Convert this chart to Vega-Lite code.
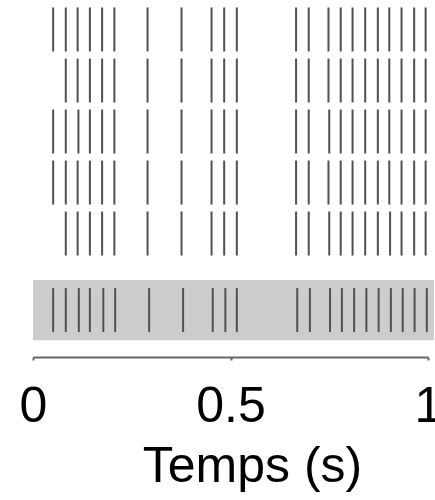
{
  "$schema": "https://vega.github.io/schema/vega-lite/v6.json",
  "width": 395,
  "height": 357,
  "autosize": {"type": "none"},
  "padding": {"left": 33, "top": 0, "right": 7, "bottom": 143},
  "config": {"view": {"stroke": null}, "font": "Liberation Sans"},
  "datasets": {
    "box": [{"x": 0, "x2": 1.015, "y": 4.91, "y2": 6.09}],
    "spikes": [
      {"row": 0, "t": 0.051}, {"row": 0, "t": 0.083}, {"row": 0, "t": 0.113}, {"row": 0, "t": 0.144}, {"row": 0, "t": 0.175}, {"row": 0, "t": 0.206},
      {"row": 0, "t": 0.290}, {"row": 0, "t": 0.376}, {"row": 0, "t": 0.452}, {"row": 0, "t": 0.484}, {"row": 0, "t": 0.516},
      {"row": 0, "t": 0.666}, {"row": 0, "t": 0.698}, {"row": 0, "t": 0.748}, {"row": 0, "t": 0.779}, {"row": 0, "t": 0.809}, {"row": 0, "t": 0.841},
      {"row": 0, "t": 0.873}, {"row": 0, "t": 0.902}, {"row": 0, "t": 0.933}, {"row": 0, "t": 0.965}, {"row": 0, "t": 0.994},

      {"row": 1, "t": 0.083}, {"row": 1, "t": 0.113}, {"row": 1, "t": 0.144}, {"row": 1, "t": 0.175}, {"row": 1, "t": 0.206},
      {"row": 1, "t": 0.290}, {"row": 1, "t": 0.376}, {"row": 1, "t": 0.452}, {"row": 1, "t": 0.484}, {"row": 1, "t": 0.516},
      {"row": 1, "t": 0.666}, {"row": 1, "t": 0.698}, {"row": 1, "t": 0.748}, {"row": 1, "t": 0.779}, {"row": 1, "t": 0.809}, {"row": 1, "t": 0.841},
      {"row": 1, "t": 0.873}, {"row": 1, "t": 0.902}, {"row": 1, "t": 0.933}, {"row": 1, "t": 0.965}, {"row": 1, "t": 0.994},

      {"row": 2, "t": 0.051}, {"row": 2, "t": 0.083}, {"row": 2, "t": 0.115}, {"row": 2, "t": 0.144}, {"row": 2, "t": 0.175}, {"row": 2, "t": 0.206},
      {"row": 2, "t": 0.290}, {"row": 2, "t": 0.376}, {"row": 2, "t": 0.452}, {"row": 2, "t": 0.484}, {"row": 2, "t": 0.516},
      {"row": 2, "t": 0.666}, {"row": 2, "t": 0.698}, {"row": 2, "t": 0.750}, {"row": 2, "t": 0.779}, {"row": 2, "t": 0.809}, {"row": 2, "t": 0.841},
      {"row": 2, "t": 0.873}, {"row": 2, "t": 0.902}, {"row": 2, "t": 0.933}, {"row": 2, "t": 0.965}, {"row": 2, "t": 0.994},

      {"row": 3, "t": 0.051}, {"row": 3, "t": 0.083}, {"row": 3, "t": 0.113}, {"row": 3, "t": 0.144}, {"row": 3, "t": 0.175}, {"row": 3, "t": 0.206},
      {"row": 3, "t": 0.290}, {"row": 3, "t": 0.376}, {"row": 3, "t": 0.452}, {"row": 3, "t": 0.484}, {"row": 3, "t": 0.516},
      {"row": 3, "t": 0.666}, {"row": 3, "t": 0.698}, {"row": 3, "t": 0.748}, {"row": 3, "t": 0.779}, {"row": 3, "t": 0.809}, {"row": 3, "t": 0.841},
      {"row": 3, "t": 0.873}, {"row": 3, "t": 0.902}, {"row": 3, "t": 0.933}, {"row": 3, "t": 0.965}, {"row": 3, "t": 0.994},

      {"row": 4, "t": 0.083}, {"row": 4, "t": 0.113}, {"row": 4, "t": 0.144}, {"row": 4, "t": 0.175}, {"row": 4, "t": 0.206},
      {"row": 4, "t": 0.290}, {"row": 4, "t": 0.376}, {"row": 4, "t": 0.452}, {"row": 4, "t": 0.484}, {"row": 4, "t": 0.516},
      {"row": 4, "t": 0.666}, {"row": 4, "t": 0.698}, {"row": 4, "t": 0.750}, {"row": 4, "t": 0.779}, {"row": 4, "t": 0.809}, {"row": 4, "t": 0.841},
      {"row": 4, "t": 0.873}, {"row": 4, "t": 0.904}, {"row": 4, "t": 0.933}, {"row": 4, "t": 0.965}, {"row": 4, "t": 0.994},

      {"row": 5.5, "t": 0.051}, {"row": 5.5, "t": 0.083}, {"row": 5.5, "t": 0.116}, {"row": 5.5, "t": 0.144}, {"row": 5.5, "t": 0.178}, {"row": 5.5, "t": 0.208},
      {"row": 5.5, "t": 0.294}, {"row": 5.5, "t": 0.380}, {"row": 5.5, "t": 0.455}, {"row": 5.5, "t": 0.487}, {"row": 5.5, "t": 0.516},
      {"row": 5.5, "t": 0.669}, {"row": 5.5, "t": 0.701}, {"row": 5.5, "t": 0.752}, {"row": 5.5, "t": 0.782}, {"row": 5.5, "t": 0.813}, {"row": 5.5, "t": 0.844},
      {"row": 5.5, "t": 0.875}, {"row": 5.5, "t": 0.906}, {"row": 5.5, "t": 0.936}, {"row": 5.5, "t": 0.966}, {"row": 5.5, "t": 0.997}
    ]
  },
  "layer": [
    {
      "data": {"name": "box"},
      "mark": {"type": "rect", "color": "#cccccc"},
      "encoding": {
        "x": {"field": "x", "type": "quantitative", "scale": {"domain": [0, 1], "nice": false, "zero": false, "clamp": false},
          "axis": {
            "values": [0, 0.5, 1],
            "labelExpr": "datum.value == 0.5 ? '0.5' : format(datum.value, 'd')",
            "grid": false,
            "domainColor": "#666666", "domainWidth": 2,
            "tickColor": "#666666", "tickWidth": 2, "tickSize": 3,
            "labelFontSize": 50, "labelColor": "#000000", "labelPadding": 21, "labelFlush": false, "labelOverlap": false,
            "title": "Temps (s)", "titleFontSize": 50, "titleFontWeight": "normal", "titleColor": "#000000",
            "titlePadding": 10, "titleX": 219, "titleAlign": "center"
          }},
        "x2": {"field": "x2"},
        "y": {"field": "y", "type": "quantitative", "scale": {"domain": [-0.578, 6.42], "reverse": true, "nice": false, "zero": false}, "axis": null},
        "y2": {"field": "y2"}
      }
    },
    {
      "data": {"name": "spikes"},
      "mark": {"type": "tick", "orient": "vertical", "size": 44, "thickness": 2, "color": "#505050", "opacity": 1},
      "encoding": {
        "x": {"field": "t", "type": "quantitative"},
        "y": {"field": "row", "type": "quantitative"}
      }
    }
  ]
}
